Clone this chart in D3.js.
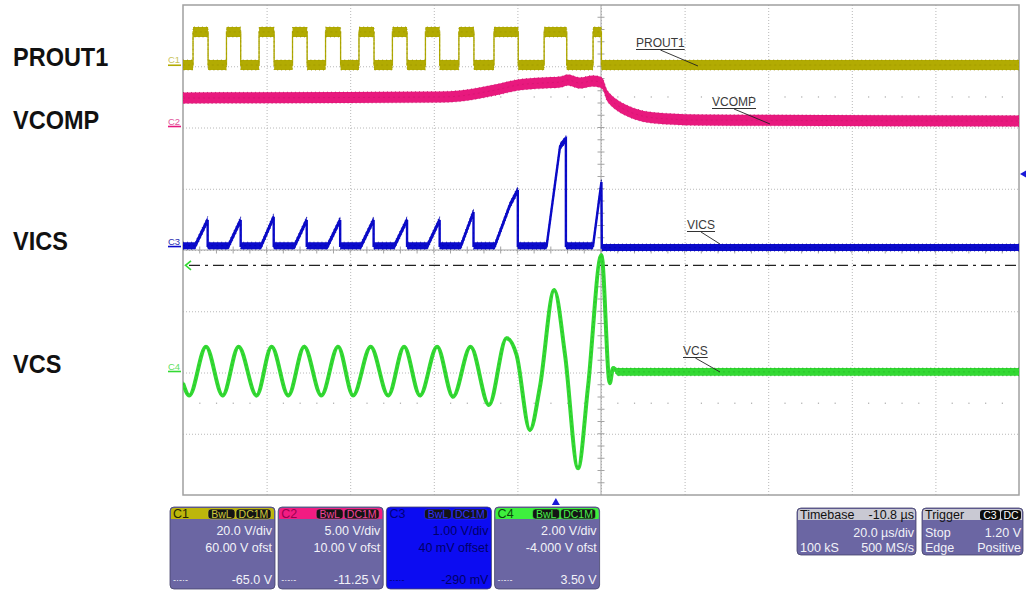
<!DOCTYPE html>
<meta charset="utf-8">
<script src="https://d3js.org/d3.v7.min.js"></script>
<style>
    body{ margin:0; background:#fff; }
    svg{ font-family:"Liberation Sans", Arial, sans-serif; }
    .grid line{ stroke:#b8b8b8; stroke-dasharray:1,2; }
    .grid .domain{ display:none; }
    .sig{ font-size:25px; font-weight:bold; fill:#111; }
    .note{ font-size:12px; fill:#3a3a3a; }
    .panel text{ font-size:12.5px; fill:#f2f2f8; }
</style>
<body>
<svg id="scope" width="1026" height="592"></svg>
<script>
    // timebase / trigger (from the info boxes)
    const tbDelay = -10.8;      // µs
    const tbPerDiv = 20;        // µs/div
    const nDivX = 10, nDivY = 8;
    const trigLevel = 1.20;     // V on C3

    // channel settings
    const chNames  = ["C1", "C2", "C3", "C4"];
    const sigNames = ["PROUT1", "VCOMP", "VICS", "VCS"];
    const chVdiv   = [20, 5, 1, 2];
    const chOfst   = [60, 10, 0.04, -4];
    const chCursor = [-65.0, -11.25, -0.29, 3.50];
    const vdivText = ["20.0 V/div", "5.00 V/div", "1.00 V/div", "2.00 V/div"];
    const ofstText = ["60.00 V ofst", "10.00 V ofst", "40 mV offset", "-4.000 V ofst"];
    const curText  = ["-65.0 V", "-11.25 V", "-290 mV", "3.50 V"];

    // C1 PROUT1: edge times (µs from trigger) and levels (V)
    const prRise = [-86.8, -78.8, -71.0, -63.0, -55.1, -47.1, -39.1, -31.2, -23.2, -14.8, -2.8, 8.9];
    const prFall = [-83.2, -75.4, -67.4, -59.5, -51.5, -43.5, -35.6, -27.8, -19.6, -9.0, 2.6, 10.9];
    const prLow = 0.4, prHigh = 11.2;

    // C2 VCOMP
    const vcompT = [-89.2, -27.8, -23.0, -18.2, -13.4, -9.1, -3.1, 1.0, 2.9, 5.7, 8.9, 10.5, 11.2, 12.2, 13.4, 14.6, 17.7, 21.8, 27.3, 34.4, 110.8];
    const vcompV = [2.41, 2.49, 2.57, 2.82, 3.14, 3.47, 3.63, 3.71, 3.88, 3.63, 3.80, 3.71, 3.55, 2.65, 2.16, 1.84, 1.27, 0.86, 0.69, 0.61, 0.53];

    // C3 VICS
    const vicsT = [-89.2, -86.3, -83.3, -83.3, -78.3, -75.4, -75.4, -70.5, -67.5, -67.5, -62.5, -59.6, -59.6, -54.6, -51.6, -51.6,
                   -46.6, -43.6, -43.6, -38.6, -35.6, -35.6, -30.7, -27.8, -27.8, -22.7, -19.7, -19.7, -14.6, -11.0, -9.1, -9.1,
                   -2.2, 1.0, 2.4, 2.4, 8.9, 10.9, 11.0, 110.8];
    const vicsV = [0.03, 0.03, 0.45, 0.03, 0.03, 0.45, 0.03, 0.03, 0.50, 0.03, 0.03, 0.45, 0.03, 0.03, 0.45, 0.03,
                   0.03, 0.45, 0.03, 0.03, 0.45, 0.03, 0.03, 0.45, 0.03, 0.03, 0.58, 0.03, 0.03, 0.69, 0.94, 0.03,
                   0.03, 1.65, 1.77, 0.03, 0.03, 1.07, 0.0, 0.0];

    // C4 VCS
    const vcsT = [-89.2, -87.7, -83.7, -79.7, -75.9, -71.6, -68.0, -64.0, -60.2, -56.1, -52.1, -48.5, -44.3, -40.1, -36.3, -32.5, -28.4,
                  -24.6, -20.4, -16.0, -11.8, -9.4, -6.2, -3.8, -0.4, 2.2, 5.3, 7.7, 10.9, 12.9, 13.7, 14.8, 110.8];
    const vcsV = [-0.35, -0.75, 0.84, -0.75, 0.84, -0.75, 0.84, -0.75, 0.84, -0.75, 0.84, -0.75, 0.84, -0.75, 0.84, -0.75, 0.84,
                  -0.79, 0.84, -1.06, 1.12, 0.57, -1.88, -0.46, 2.69, 0.57, -3.13, -0.46, 3.84, -0.35, 0.15, 0.02, 0.02];

    // ---- layout / style
    const L = 183, R = 1019, T = 5, B = 495;
    const chColor  = ["#b2ab02", "#e8197e", "#0b0bcc", "#33d933"];
    const chDark   = ["#8f8900", "#b8105f", "#00008a", "#139a13"];
    const chLabel  = ["#c9c25a", "#e0559a", "#2a2ab0", "#5fe05f"];
    const headCol  = ["#bdb60c", "#f21c82", "#0c0cf2", "#3ef03e"];
    const headTxt  = ["#262400", "#9a0050", "#00007a", "#0a4a0a"];
    const badgeTxt = ["#cfc83a", "#f2449a", "#2f2fff", "#48f048"];
    const boxFill = "#6b66a3";

    const svg = d3.select("#scope");

    const tMid = -tbDelay;
    const x = d3.scaleLinear()
        .domain([tMid - nDivX / 2 * tbPerDiv, tMid + nDivX / 2 * tbPerDiv])
        .range([L, R]);
    const ys = chVdiv.map((vd, i) => d3.scaleLinear()
        .domain([-chOfst[i] - nDivY / 2 * vd, -chOfst[i] + nDivY / 2 * vd])
        .range([B, T]));
    const xDiv = d3.scaleLinear().domain([0, nDivX]).range([L, R]);
    const yDiv = d3.scaleLinear().domain([-nDivY / 2, nDivY / 2]).range([B, T]);

    // grid
    svg.append("g").attr("class", "grid").attr("transform", `translate(0,${B})`)
        .call(d3.axisBottom(xDiv).tickValues(d3.range(1, nDivX)).tickSize(-(B - T)).tickFormat(""));
    svg.append("g").attr("class", "grid").attr("transform", `translate(${L},0)`)
        .call(d3.axisLeft(yDiv).tickValues(d3.range(-nDivY / 2 + 1, nDivY / 2)).tickSize(-(R - L)).tickFormat(""));

    // half-division dot rows
    [2.5, -2.5].forEach(r => {
        svg.append("g").selectAll("rect")
            .data(d3.range(1, nDivX * 5).filter(k => k % 5 !== 0))
            .join("rect")
            .attr("x", k => xDiv(k / 5) - 0.5).attr("y", yDiv(r) - 0.5)
            .attr("width", 1.2).attr("height", 1.2).attr("fill", "#a8a8a8");
    });

    // centre axes with minor ticks
    const xc = xDiv(nDivX / 2), yc = yDiv(0);
    const axG = svg.append("g").attr("stroke", "#a4a4a4").attr("stroke-width", 1);
    axG.append("line").attr("x1", xc).attr("x2", xc).attr("y1", T).attr("y2", B);
    axG.append("line").attr("x1", L).attr("x2", R).attr("y1", yc).attr("y2", yc);
    axG.selectAll(".ty").data(d3.range(1, nDivY * 5)).join("line").attr("class", "ty")
        .attr("x1", xc - 3.5).attr("x2", xc + 3.5)
        .attr("y1", k => yDiv(-nDivY / 2 + k / 5)).attr("y2", k => yDiv(-nDivY / 2 + k / 5));
    axG.selectAll(".tx").data(d3.range(1, nDivX * 5)).join("line").attr("class", "tx")
        .attr("y1", yc - 3.5).attr("y2", yc + 3.5)
        .attr("x1", k => xDiv(k / 5)).attr("x2", k => xDiv(k / 5));

    svg.append("rect").attr("x", L).attr("y", T).attr("width", R - L).attr("height", B - T)
        .attr("fill", "none").attr("stroke", "#a0a0a0").attr("stroke-width", 1.5);

    // cursor (dash-dot)
    const yCur = ys[3](chCursor[3]);
    svg.append("line").attr("x1", L + 6).attr("x2", R).attr("y1", yCur).attr("y2", yCur)
        .attr("stroke", "#222").attr("stroke-width", 1.3).attr("stroke-dasharray", "11,5,3,5");
    svg.append("path").attr("d", `M${L + 8},${yCur - 4.5}L${L + 2.5},${yCur}L${L + 8},${yCur + 4.5}`)
        .attr("fill", "none").attr("stroke", chColor[3]).attr("stroke-width", 1.6);

    // traces
    svg.append("clipPath").attr("id", "clip").append("rect")
        .attr("x", L).attr("y", T).attr("width", R - L).attr("height", B - T);
    const plotG = svg.append("g").attr("clip-path", "url(#clip)");

    function drawTrace(pts, y, i, hw, curve, lw) {
        const g = plotG.append("g");
        const hwf = typeof hw === "function" ? hw : () => hw;
        g.append("path").datum(pts)
            .attr("d", d3.area().curve(curve).x(d => x(d[0]))
                .y0(d => y(d[1]) + hwf(d)).y1(d => y(d[1]) - hwf(d)))
            .attr("fill", chColor[i])
            .attr("stroke", chDark[i]).attr("stroke-width", 0.7).attr("stroke-dasharray", "1,3");
        g.append("path").datum(pts)
            .attr("d", d3.line().curve(curve).x(d => x(d[0])).y(d => y(d[1])))
            .attr("fill", "none").attr("stroke", chColor[i]).attr("stroke-width", lw);
        g.append("path").datum(pts)
            .attr("d", d3.line().curve(curve).x(d => x(d[0])).y(d => y(d[1])))
            .attr("fill", "none").attr("stroke", chDark[i]).attr("stroke-width", 0.6)
            .attr("stroke-dasharray", "2,3").attr("opacity", 0.6);
    }

    const c1Pts = [[x.domain()[0], prLow]];
    prRise.forEach((r, i) => c1Pts.push([r, prLow], [r, prHigh], [prFall[i], prHigh], [prFall[i], prLow]));
    c1Pts.push([x.domain()[1], prLow]);

    drawTrace(c1Pts, ys[0], 0, 5, d3.curveLinear, 1.3);
    drawTrace(d3.zip(vcompT, vcompV), ys[1], 1, 5.5, d3.curveMonotoneX, 2);
    drawTrace(d3.zip(vicsT, vicsV), ys[2], 2, 3.5, d3.curveLinear, 2.4);
    drawTrace(d3.zip(vcsT, vcsV), ys[3], 3, d => d[0] > 14 ? 3.8 : 1.6, d3.curveMonotoneX, 4);

    // trigger markers
    const yTrig = ys[2](trigLevel);
    svg.append("path").attr("d", `M${R + 1},${yTrig}L${R + 7},${yTrig - 3.5}L${R + 7},${yTrig + 3.5}Z`)
        .attr("fill", "#1a1ad8");
    const xTrig = x(0);
    svg.append("path").attr("d", `M${xTrig},${B + 3}L${xTrig - 4},${B + 10}L${xTrig + 4},${B + 10}Z`)
        .attr("fill", "#1a1ad8");

    // channel ground labels
    chNames.forEach((c, i) => {
        const g0 = ys[i](0);
        svg.append("text").attr("x", 168).attr("y", g0 - 3).text(c)
            .attr("font-size", "9.5px").attr("fill", chLabel[i]);
        svg.append("line").attr("x1", 168).attr("x2", 181).attr("y1", g0 - 1).attr("y2", g0 - 1)
            .attr("stroke", chColor[i]).attr("stroke-width", 1.6);
    });

    // big signal names on the left
    const sigBase = [65.5, 128.5, 250, 373];
    sigNames.forEach((s, i) => {
        svg.append("text").attr("class", "sig")
            .attr("transform", `translate(13,${sigBase[i]}) scale(0.94,1)`).text(s);
    });

    // in-plot annotations with leader lines
    const notes = [
        {i: 0, tx: 636, ty: 47, ex: 698, ey: 66},
        {i: 1, tx: 712, ty: 106, ex: 770, ey: 124},
        {i: 2, tx: 687, ty: 229, ex: 720, ey: 244},
        {i: 3, tx: 683, ty: 355, ex: 720, ey: 372}
    ];
    notes.forEach(n => {
        const t = svg.append("text").attr("class", "note").attr("x", n.tx).attr("y", n.ty).text(sigNames[n.i]);
        const w = t.node().getComputedTextLength();
        svg.append("line").attr("x1", n.tx).attr("x2", n.tx + w).attr("y1", n.ty + 2.5).attr("y2", n.ty + 2.5)
            .attr("stroke", "#333").attr("stroke-width", 1);
        svg.append("line").attr("x1", n.tx + w * 0.5).attr("y1", n.ty + 3).attr("x2", n.ex).attr("y2", n.ey)
            .attr("stroke", "#222").attr("stroke-width", 0.9);
    });

    // ---- info panels
    const panelG = svg.append("g").attr("class", "panel");
    chNames.forEach((c, i) => {
        const pw = 105, ph = 82;
        const sel = i === 2;
        const txt = sel ? "#00006a" : "#f2f2f8";
        const g = panelG.append("g").attr("transform", `translate(${170 + i * 108.2},507)`);
        g.append("rect").attr("width", pw).attr("height", ph).attr("rx", 4)
            .attr("fill", sel ? headCol[i] : boxFill).attr("stroke", "#44426a").attr("stroke-width", 0.8);
        g.append("rect").attr("x", 1).attr("y", 1).attr("width", pw - 2).attr("height", 11).attr("rx", 3).attr("fill", headCol[i]);
        g.append("rect").attr("x", 1).attr("y", 6).attr("width", pw - 2).attr("height", 6).attr("fill", headCol[i]);
        g.append("text").attr("x", 3).attr("y", 11).text(c).style("fill", headTxt[i]).style("font-size", "12.5px");
        [["BwL", 38, 27], ["DC1M", 66, 35]].forEach(([b, bx, bw]) => {
            g.append("rect").attr("x", bx).attr("y", 2).attr("width", bw).attr("height", 10).attr("rx", 3)
                .attr("fill", "#141414").attr("stroke", badgeTxt[i]).attr("stroke-width", 0.6);
            g.append("text").attr("x", bx + bw / 2).attr("y", 10.8).attr("text-anchor", "middle").text(b)
                .style("fill", badgeTxt[i]).style("font-size", "10.5px");
        });
        g.append("text").attr("x", pw - 3).attr("y", 28).attr("text-anchor", "end").text(vdivText[i]).style("fill", txt);
        g.append("text").attr("x", pw - 3).attr("y", 44.5).attr("text-anchor", "end").text(ofstText[i]).style("fill", txt);
        g.append("text").attr("x", pw - 3).attr("y", 77).attr("text-anchor", "end").text(curText[i]).style("fill", txt);
        g.append("text").attr("x", 3).attr("y", 76).text("-·-·-").style("fill", txt).style("font-size", "9px");
    });

    function infoBox(bx, bw, head, headRight, rows) {
        const g = panelG.append("g").attr("transform", `translate(${bx},508)`);
        g.append("rect").attr("width", bw).attr("height", 47).attr("rx", 4)
            .attr("fill", boxFill).attr("stroke", "#44426a").attr("stroke-width", 0.8);
        g.append("rect").attr("x", 1).attr("y", 1).attr("width", bw - 2).attr("height", 11).attr("rx", 3).attr("fill", "#c9c9d3");
        g.append("rect").attr("x", 1).attr("y", 6).attr("width", bw - 2).attr("height", 6).attr("fill", "#c9c9d3");
        g.append("text").attr("x", 3).attr("y", 11).text(head).style("fill", "#111").style("font-size", "12.5px");
        if (headRight) g.append("text").attr("x", bw - 2).attr("y", 11).attr("text-anchor", "end")
            .text(headRight).style("fill", "#111").style("font-size", "12.5px");
        rows.forEach((r, k) => {
            const yy = 28.5 + k * 15;
            if (r[0]) g.append("text").attr("x", 3).attr("y", yy).text(r[0]).style("font-size", "12.5px");
            if (r[1]) g.append("text").attr("x", bw - 2).attr("y", yy).attr("text-anchor", "end").text(r[1]).style("font-size", "12.5px");
        });
        return g;
    }

    infoBox(797, 119, "Timebase", tbDelay.toFixed(1) + " µs",
        [["", tbPerDiv.toFixed(1) + " µs/div"], ["100 kS", "500 MS/s"]]);
    const trg = infoBox(922, 101, "Trigger", null,
        [["Stop", trigLevel.toFixed(2) + " V"], ["Edge", "Positive"]]);
    [["C3", 58, 20], ["DC", 79, 20]].forEach(([b, bx, bw]) => {
        trg.append("rect").attr("x", bx).attr("y", 2).attr("width", bw).attr("height", 10).attr("rx", 3).attr("fill", "#0c0c0c");
        trg.append("text").attr("x", bx + bw / 2).attr("y", 10.8).attr("text-anchor", "middle").text(b)
            .style("fill", "#fff").style("font-size", "10.5px");
    });
</script>
</body>
